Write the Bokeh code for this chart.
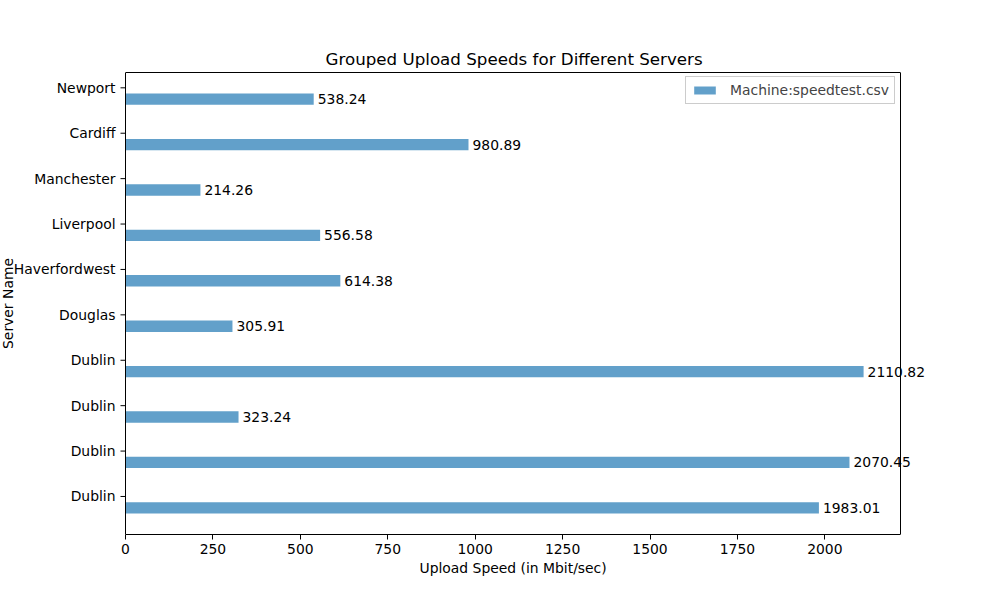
import math
from bokeh.plotting import figure
from bokeh.models import (ColumnDataSource, FixedTicker, Range1d, LabelSet, Label, Legend,
                          LegendItem, LinearAxis, Span, Title)
from bokeh.core.properties import value
from bokeh.embed import file_html
from bokeh.resources import INLINE

servers = ["Dublin", "Dublin", "Dublin", "Dublin", "Douglas", "Haverfordwest",
           "Liverpool", "Manchester", "Cardiff", "Newport"]
speeds = [1983.01, 2070.45, 323.24, 2110.82, 305.91, 614.38, 556.58, 214.26, 980.89, 538.24]
series_name = "Machine:speedtest.csv"
x_ticks = [0, 250, 500, 750, 1000, 1250, 1500, 1750, 2000]

bar_h = 0.25
idx = list(range(len(servers)))
ypos = [i - bar_h for i in idx]
labels = [f"{v:.2f}" for v in speeds]

src = ColumnDataSource(dict(y=ypos, right=speeds, label=labels))
tick_src = ColumnDataSource(dict(y=idx, name=servers))

lo = min(ypos) - bar_h / 2
hi = max(ypos) + bar_h / 2
pad = (hi - lo) * 0.05
xmax = max(speeds) * 1.05

FONT = "DejaVu Sans"
FS = "13.9px"

AX_L = 125          # left edge of the visible axes box, px
AX_W = 775          # visible axes box width, px
FRAME_W = 990       # drawing frame spans the page so texts can overflow the box
k = xmax / AX_W     # data units per pixel

p = figure(width=1000, height=600, output_backend="svg", toolbar_location=None,
           y_axis_location=None,
           x_range=Range1d(-AX_L * k, (FRAME_W - AX_L) * k), y_range=Range1d(lo - pad, hi + pad),
           min_border_left=0, min_border_right=10, min_border_top=72, min_border_bottom=66)
p.frame_width = FRAME_W
p.frame_height = 462

r = p.hbar(y="y", right="right", left=0, height=bar_h, source=src,
           fill_color="#1f77b4", fill_alpha=0.7, line_color=None)

p.add_layout(LabelSet(x="right", y="y", text="label", source=src, x_offset=4,
                      text_baseline="middle", text_align="left", text_font=value(FONT),
                      text_font_size=FS, text_color="black"))

# y axis: spine, ticks and tick labels
p.add_layout(Span(location=0, dimension="height", line_color="black", line_width=1))
p.segment(x0=-5 * k, x1=0, y0="y", y1="y", source=tick_src, line_color="black", line_width=1)
p.add_layout(LabelSet(x=0, y="y", text="name", source=tick_src, x_offset=-10,
                      text_baseline="middle", text_align="right", text_font=value(FONT),
                      text_font_size=FS, text_color="black"))
p.add_layout(Label(x=(7 - AX_L) * k, y=(lo - pad + hi + pad) / 2, text="Server Name",
                   angle=math.pi / 2, text_align="center", text_baseline="middle",
                   text_font=FONT, text_font_size=FS, text_color="black"))

# right spine
p.add_layout(Span(location=xmax, dimension="height", line_color="black", line_width=1))

p.title.text = "Grouped Upload Speeds for Different Servers"
p.title.align = "left"
p.title.offset = 325
p.title.text_font = FONT
p.title.text_font_size = "16.7px"
p.title.text_font_style = "normal"
p.title.text_color = "black"
p.title.standoff = 8

p.xgrid.visible = False
p.ygrid.visible = False
p.outline_line_color = None

p.xaxis.ticker = FixedTicker(ticks=x_ticks)
p.xaxis.bounds = (0, xmax)
ax = p.xaxis[0]
ax.major_tick_out = 5
ax.major_tick_in = 0
ax.minor_tick_out = 0
ax.minor_tick_in = 0
ax.major_label_standoff = 4
ax.major_label_text_font = FONT
ax.major_label_text_font_size = FS
ax.major_label_text_color = "black"
ax.axis_line_color = "black"
ax.major_tick_line_color = "black"

top = LinearAxis(bounds=(0, xmax), major_tick_out=0, major_tick_in=0, minor_tick_out=0,
                 minor_tick_in=0, major_label_text_font_size="0px",
                 major_label_standoff=0, axis_line_color="black")
top.ticker = FixedTicker(ticks=[])
p.add_layout(top, "above")

xlab = Title(text="Upload Speed (in Mbit/sec)", align="left", offset=419, standoff=3,
             text_font=FONT, text_font_size=FS, text_font_style="normal", text_color="black")
p.add_layout(xlab, "below")

legend = Legend(items=[LegendItem(label=series_name, renderers=[r])],
                location=(685, 430), label_text_font=FONT, label_text_font_size=FS,
                border_line_color="#cccccc", border_line_alpha=1, background_fill_alpha=0.8,
                glyph_width=27, glyph_height=10, padding=5, spacing=0, margin=0,
                label_standoff=12, label_height=14)
p.add_layout(legend)

open("out.html", "w").write(file_html(p, INLINE))
